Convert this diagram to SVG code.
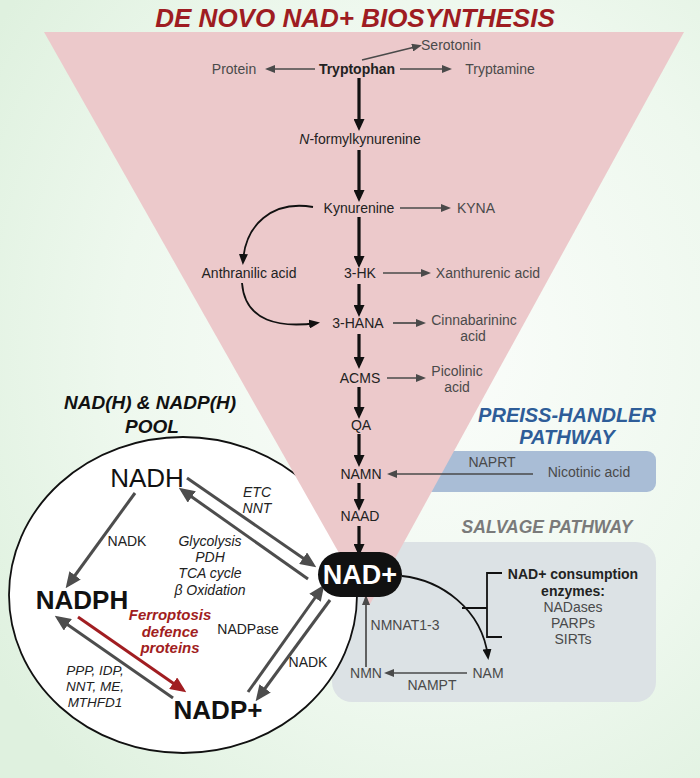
<svg xmlns="http://www.w3.org/2000/svg" width="700" height="778" viewBox="0 0 700 778">
<defs>
<radialGradient id="bg" cx="62%" cy="45%" r="75%">
<stop offset="0" stop-color="#fbfdfb"/>
<stop offset="0.6" stop-color="#eef8ee"/>
<stop offset="1" stop-color="#dff1df"/>
</radialGradient>
<marker id="aBlk" markerUnits="userSpaceOnUse" markerWidth="12" markerHeight="11" refX="8" refY="5.5" orient="auto"><path d="M0,0 L12,5.5 L0,11 z" fill="#111"/></marker>
<marker id="aThin" markerUnits="userSpaceOnUse" markerWidth="10" markerHeight="8" refX="7" refY="4" orient="auto"><path d="M0,0 L10,4 L0,8 z" fill="#4a4a4a"/></marker>
<marker id="aCur" markerUnits="userSpaceOnUse" markerWidth="11" markerHeight="9" refX="8" refY="4.5" orient="auto"><path d="M0,0 L11,4.5 L0,9 z" fill="#111"/></marker>
<marker id="aBig" markerUnits="userSpaceOnUse" markerWidth="16" markerHeight="14" refX="12" refY="7" orient="auto"><path d="M0,0 L16,7 L0,14 z" fill="#4d4d4d"/></marker>
<marker id="aRed" markerUnits="userSpaceOnUse" markerWidth="16" markerHeight="14" refX="12" refY="7" orient="auto"><path d="M0,0 L16,7 L0,14 z" fill="#a11d21"/></marker>
</defs>
<style>
text{font-family:"Liberation Sans",Arial,sans-serif;text-anchor:middle}
.m{font-size:14px;fill:#222}
.s{font-size:14px;fill:#4a4a4a}
.b{font-weight:bold}
.i{font-style:italic}
.big{font-size:26px;fill:#111}
.spine{stroke:#111;stroke-width:3.2;fill:none;marker-end:url(#aBlk)}
.thin{stroke:#4a4a4a;stroke-width:1.7;fill:none;marker-end:url(#aThin)}
.cur{stroke:#111;stroke-width:1.8;fill:none;marker-end:url(#aCur)}
.gr{stroke:#4d4d4d;stroke-width:3;fill:none;marker-end:url(#aBig)}
.red{stroke:#a11d21;stroke-width:3;fill:none;marker-end:url(#aRed)}
.br{stroke:#111;stroke-width:1.8;fill:none}
</style>
<rect width="700" height="778" fill="url(#bg)"/>
<g id="salvage-box"><rect x="332" y="542" width="324" height="160" rx="20" fill="#dce2e5"/></g>
<g id="preiss-box"><rect x="380" y="451" width="276" height="41" rx="9" fill="#a9bdd6"/></g>
<g id="pool-circle"><ellipse cx="183" cy="595" rx="174" ry="158" fill="#fff" stroke="#111" stroke-width="1.8"/></g>
<g id="denovo-triangle"><polygon points="44,32 684,32 369,606" fill="#ecc9cb"/></g>

<g id="connectors">
<path class="thin" d="M362,60 L419,46"/>
<path class="thin" d="M315,69 L268,69"/>
<path class="thin" d="M400,69 L449,69"/>
<path class="spine" d="M359,78 L359,127"/>
<path class="spine" d="M359,150 L359,198"/>
<path class="spine" d="M359,217 L359,264"/>
<path class="thin" d="M400,208 L448,208"/>
<path class="cur" d="M313,207 C272,200 245,225 243,262"/>
<path class="spine" d="M359,284 L359,313"/>
<path class="thin" d="M383,273 L428,273"/>
<path class="cur" d="M242,283 C245,322 280,328 317,323"/>
<path class="spine" d="M359,334 L359,365"/>
<path class="thin" d="M393,323 L423,323"/>
<path class="spine" d="M359,387 L359,415"/>
<path class="thin" d="M387,378 L423,378"/>
<path class="spine" d="M359,434 L359,463"/>
<path class="thin" d="M533,474 L390,474"/>
<path class="spine" d="M359,483 L359,507"/>
<path class="spine" d="M359,526 L359,552"/>
<path class="thin" d="M366,667 L366,598"/>
<path class="thin" d="M467,673 L387,673"/>
<path class="cur" d="M402,576 C440,580 482,608 488,657"/>
<path class="br" d="M502,573 L487,573 L487,637 L502,637 M462,608 L487,608"/>
<path class="gr" d="M187,478 L313,565"/>
<path class="gr" d="M308,579 L182,490"/>
<path class="gr" d="M135,493 L68,585"/>
<path class="gr" d="M173,698 L58,618"/>
<path class="red" d="M78,617 L183,690"/>
<path class="gr" d="M248,692 L322,588"/>
<path class="gr" d="M330,600 L258,698"/>
</g>

<g id="title"><text x="355" y="27" style="font-size:26px;font-weight:bold;font-style:italic;fill:#9e1c22">DE NOVO NAD+ BIOSYNTHESIS</text></g>
<g id="n-serotonin"><text class="s" x="451" y="50">Serotonin</text></g>
<g id="n-protein"><text class="s" x="234" y="74">Protein</text></g>
<g id="n-tryptophan"><text class="m b" x="357" y="74">Tryptophan</text></g>
<g id="n-tryptamine"><text class="s" x="500" y="74">Tryptamine</text></g>
<g id="n-nfk"><text class="m" x="360" y="144"><tspan font-style="italic">N</tspan>-formylkynurenine</text></g>
<g id="n-kynurenine"><text class="m" x="359" y="213">Kynurenine</text></g>
<g id="n-kyna"><text class="s" x="476" y="213">KYNA</text></g>
<g id="n-anthranilic"><text class="m" x="249" y="278">Anthranilic acid</text></g>
<g id="n-3hk"><text class="m" x="360" y="278">3-HK</text></g>
<g id="n-xanthurenic"><text class="s" x="488" y="278">Xanthurenic acid</text></g>
<g id="n-3hana"><text class="m" x="358" y="328">3-HANA</text></g>
<g id="n-cinnabarininc"><text class="s" x="474" y="325">Cinnabarininc</text><text class="s" x="473" y="341">acid</text></g>
<g id="n-acms"><text class="m" x="360" y="383">ACMS</text></g>
<g id="n-picolinic"><text class="s" x="457" y="376">Picolinic</text><text class="s" x="457" y="392">acid</text></g>
<g id="n-qa"><text class="m" x="361" y="430">QA</text></g>
<g id="n-namn"><text class="m" x="361" y="479">NAMN</text></g>
<g id="n-naprt"><text class="s" x="492" y="467">NAPRT</text></g>
<g id="n-nicotinic"><text class="s" x="589" y="477">Nicotinic acid</text></g>
<g id="n-naad"><text class="m" x="360" y="521">NAAD</text></g>
<g id="n-nad"><rect x="318" y="552" width="84" height="45" rx="22.5" fill="#111"/><text x="360" y="584" style="font-size:27px;font-weight:bold;fill:#fff">NAD+</text></g>
<g id="preiss-title"><text x="567" y="422" style="font-size:20px;font-weight:bold;font-style:italic;fill:#2e5d98">PREISS-HANDLER</text><text x="567" y="444" style="font-size:20px;font-weight:bold;font-style:italic;fill:#2e5d98">PATHWAY</text></g>
<g id="salvage-title"><text x="547" y="533" style="font-size:17.5px;font-weight:bold;font-style:italic;fill:#7a7a7a">SALVAGE PATHWAY</text></g>
<g id="n-consumption"><text class="m b" x="573" y="579">NAD+ consumption</text><text class="m b" x="573" y="596">enzymes:</text><text class="s" x="573" y="612">NADases</text><text class="s" x="573" y="628">PARPs</text><text class="s" x="573" y="644">SIRTs</text></g>
<g id="n-nmnat"><text class="s" x="405" y="630">NMNAT1-3</text></g>
<g id="n-nmn"><text class="s" x="366" y="678">NMN</text></g>
<g id="n-nam"><text class="s" x="488" y="678">NAM</text></g>
<g id="n-nampt"><text class="s" x="432" y="690">NAMPT</text></g>
<g id="pool-title"><text x="150" y="409" style="font-size:19px;font-weight:bold;font-style:italic;fill:#111">NAD(H) &amp; NADP(H)</text><text x="152" y="433" style="font-size:19px;font-weight:bold;font-style:italic;fill:#111">POOL</text></g>
<g id="n-nadh"><text class="big" x="147" y="487">NADH</text></g>
<g id="n-nadph"><text class="big b" x="82" y="609">NADPH</text></g>
<g id="n-nadp"><text class="big b" x="218" y="719">NADP+</text></g>
<g id="lbl-nadk1"><text class="m" x="127" y="546">NADK</text></g>
<g id="lbl-etc"><text class="m i" x="257" y="497">ETC</text><text class="m i" x="257" y="513">NNT</text></g>
<g id="lbl-glyco"><text class="m i" x="210" y="546">Glycolysis</text><text class="m i" x="210" y="562">PDH</text><text class="m i" x="210" y="578">TCA cycle</text><text class="m i" x="210" y="595">β Oxidation</text></g>
<g id="lbl-ferro"><text x="170" y="620" style="font-size:15px;font-weight:bold;font-style:italic;fill:#a11d21">Ferroptosis</text><text x="170" y="637" style="font-size:15px;font-weight:bold;font-style:italic;fill:#a11d21">defence</text><text x="170" y="653" style="font-size:15px;font-weight:bold;font-style:italic;fill:#a11d21">proteins</text></g>
<g id="lbl-nadpase"><text class="m" x="248" y="634">NADPase</text></g>
<g id="lbl-nadk2"><text class="m" x="308" y="667">NADK</text></g>
<g id="lbl-ppp"><text class="m i" x="95" y="675" style="font-size:13.5px">PPP, IDP,</text><text class="m i" x="95" y="691" style="font-size:13.5px">NNT, ME,</text><text class="m i" x="95" y="707" style="font-size:13.5px">MTHFD1</text></g>
</svg>
